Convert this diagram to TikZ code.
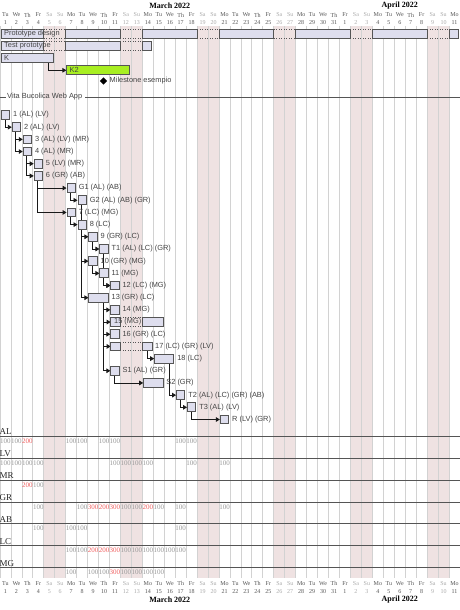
\documentclass[tikz,border=0pt]{standalone}
\usepackage{fontspec}
\setmainfont{Liberation Serif}
\newfontfamily\sansf{Liberation Sans}
\usetikzlibrary{arrows.meta,shapes.geometric}
\definecolor{wkbg}{HTML}{EFE2E2}
\definecolor{gridc}{HTML}{D2D2D2}
\definecolor{barf}{HTML}{DEDEEE}
\definecolor{barb}{HTML}{555555}
\definecolor{kgreen}{HTML}{A8EE22}
\definecolor{lblc}{HTML}{444444}
\definecolor{wdt}{HTML}{555555}
\definecolor{wkt}{HTML}{AAAAAA}
\definecolor{valc}{HTML}{999999}
\definecolor{valr}{HTML}{F06060}
\definecolor{rline}{HTML}{555555}
\pgfdeclarelayer{bg}
\pgfdeclarelayer{conn}
\pgfsetlayers{bg,conn,main}
\newcommand\DW{10.952}
\newcommand\mkbar[5]{%
  \pgfmathsetmacro\bw{(#3)-(#2)}%
  \pgfmathsetmacro\bx{((#2)+(#3))/2}%
  \node[#5, minimum width=\bw pt] (#1) at (\bx,#4) {};%
}
\newcommand\mktask[5]{%
  \mkbar{#1}{((#2)-1)*\DW+1.3}{(#3)*\DW-1.3}{#4}{tk}%
  \node[lbl] (#1l) at ([xshift=2.8pt]#1.east) {#5};%
}
\newcommand\segbox[3]{\draw[segst] (#1,#3-4.4) rectangle (#2,#3+4.4);}
\newcommand\segdot[3]{\draw[dotst] (#1,#3-4.4) -- (#2,#3-4.4) (#1,#3+4.4) -- (#2,#3+4.4);}
\newcommand\linkto[2]{\draw[depst] ([xshift=-5.15pt]#1.south east) |- (#2.west);}
\begin{document}
\begin{tikzpicture}[x=1pt,y=-1pt,
  tk/.style={rectangle,draw=barb,fill=barf,line width=0.9pt,inner sep=0pt,minimum height=8.8pt},
  phantom/.style={rectangle,inner sep=0pt,minimum height=8.8pt},
  segst/.style={draw=barb,fill=barf,line width=0.9pt},
  dotst/.style={draw=barb,line width=0.9pt,dash pattern=on 1pt off 1.5pt},
  lbl/.style={font=\sansf\fontsize{7.4}{8}\selectfont,text=lblc,inner sep=0pt,anchor=west},
  depst/.style={draw=black!90,line width=0.9pt,-{Triangle[length=4pt,width=4.6pt]}},
  hdr/.style={font=\fontsize{6}{7}\selectfont,inner sep=0pt},
  mon/.style={font=\bfseries\fontsize{8}{9}\selectfont,inner sep=0pt},
  val/.style={font=\fontsize{7}{8}\selectfont,inner sep=0pt},
  rlab/.style={font=\fontsize{9}{10}\selectfont,inner sep=0pt,anchor=base west,text=black!85},
  rl/.style={draw=rline,line width=1pt}
]
\useasboundingbox (0,0) rectangle (460,610);
\begin{pgfonlayer}{bg}
\fill[white] (0,0) rectangle (460,610);
\foreach \d in {5,6,12,13,19,20,26,27,33,34,40,41}
  \fill[wkbg] ({(\d-1)*\DW},26) rectangle ({\d*\DW},577.7);
\foreach \k in {0,...,42}
  \draw[gridc,line width=0.8pt] ({\k*\DW},26) -- ({\k*\DW},577.7);
\foreach \r in {0,...,6}
  \draw[rl] (0,{436.5+21.87*\r}) -- (460,{436.5+21.87*\r});
\end{pgfonlayer}

% headers
\node[mon] (mt1) at ({31*\DW/2},5.7) {March 2022};
\node[mon] (mt2) at ({(31+42)*\DW/2},5.7) {April 2022};
\node[mon] (mb1) at ({31*\DW/2},600) {March 2022};
\node[mon] (mb2) at ({(31+42)*\DW/2},600) {April 2022};
\foreach \i in {1,...,42}{%
  \pgfmathtruncatemacro\dw{mod(\i-1,7)}%
  \pgfmathtruncatemacro\dn{\i>31 ? \i-31 : \i}%
  \pgfmathsetmacro\cx{(\i-0.5)*\DW}%
  \ifnum\dw=4 \def\hc{wkt}\else\ifnum\dw=5 \def\hc{wkt}\else\def\hc{wdt}\fi\fi
  \node[hdr,text=\hc] (dt\i) at (\cx,15) {\ifcase\dw Tu\or We\or Th\or Fr\or Sa\or Su\or Mo\fi};
  \node[hdr,text=\hc] (nt\i) at (\cx,22.6) {\dn};
  \node[hdr,text=\hc] (db\i) at (\cx,583.3) {\ifcase\dw Tu\or We\or Th\or Fr\or Sa\or Su\or Mo\fi};
  \node[hdr,text=\hc] (nb\i) at (\cx,591.7) {\dn};
}

% top bars
\mkbar{pd}{1.5}{42*\DW-1.5}{33.8}{phantom}
\segbox{1.5}{4*\DW}{33.8}\segdot{4*\DW}{6*\DW}{33.8}
\segbox{6*\DW}{11*\DW}{33.8}\segdot{11*\DW}{13*\DW}{33.8}
\segbox{13*\DW}{18*\DW}{33.8}\segdot{18*\DW}{20*\DW}{33.8}
\segbox{20*\DW}{25*\DW}{33.8}\segdot{25*\DW}{27*\DW}{33.8}
\segbox{27*\DW}{32*\DW}{33.8}\segdot{32*\DW}{34*\DW}{33.8}
\segbox{34*\DW}{39*\DW}{33.8}\segdot{39*\DW}{41*\DW}{33.8}
\segbox{41*\DW}{42*\DW-1.5}{33.8}
\node[lbl] (pdl) at (4,33.8) {Prototype design};

\mkbar{tp}{1.5}{14*\DW-1.5}{46}{phantom}
\segbox{1.5}{4*\DW}{46}\segdot{4*\DW}{6*\DW}{46}
\segbox{6*\DW}{11*\DW}{46}\segdot{11*\DW}{13*\DW}{46}
\segbox{13*\DW}{14*\DW-1.5}{46}
\node[lbl] (tpl) at (4,46) {Test prototype};

\mkbar{k}{1.5}{5*\DW-1.5}{57.8}{tk}
\node[lbl] (kl) at (4,57.8) {K};
\mkbar{k2}{6*\DW+1.1}{12*\DW-2}{70.3}{tk,fill=kgreen}
\node[lbl] (k2l) at (69.5,70.3) {K2};

\node[diamond,fill=black,inner sep=0pt,minimum width=7.5pt,minimum height=7.5pt] (ms) at (103.5,81) {};
\node[lbl] (msl) at (109.5,81) {Milestone esempio};

% group
\coordinate (g0) at (0,97);
\coordinate (gend) at (460,97);
\node[lbl] (grp) at (7,97) {Vita Bucolica Web App};
\draw[rl] (g0) -- ([xshift=-1.5pt]grp.west);
\draw[rl] ([xshift=3pt]grp.east) -- (gend);

% tasks
\mktask{t1}{1}{1}{115.0}{1 (AL) (LV)}
\mktask{t2}{2}{2}{127.18}{2 (AL) (LV)}
\mktask{t3}{3}{3}{139.36}{3 (AL) (LV) (MR)}
\mktask{t4}{3}{3}{151.54}{4 (AL) (MR)}
\mktask{t5}{4}{4}{163.72}{5 (LV) (MR)}
\mktask{t6}{4}{4}{175.9}{6 (GR) (AB)}
\mktask{g1}{7}{7}{188.08}{G1 (AL) (AB)}
\mktask{g2}{8}{8}{200.26}{G2 (AL) (AB) (GR)}
\mktask{t7}{7}{7}{212.44}{7 (LC) (MG)}
\mktask{t8}{8}{8}{224.62}{8 (LC)}
\mktask{t9}{9}{9}{236.8}{9 (GR) (LC)}
\mktask{tT1}{10}{10}{248.98}{T1 (AL) (LC) (GR)}
\mktask{t10}{9}{9}{261.16}{10 (GR) (MG)}
\mktask{t11}{10}{10}{273.34}{11 (MG)}
\mktask{t12}{11}{11}{285.52}{12 (LC) (MG)}
\mktask{t13}{9}{10}{297.7}{13 (GR) (LC)}
\mktask{t14}{11}{11}{309.88}{14 (MG)}
\mkbar{t15}{10*\DW+1.3}{15*\DW-1.3}{322.06}{phantom}
\segbox{10*\DW+1.3}{11*\DW}{322.06}\segdot{11*\DW}{13*\DW}{322.06}
\segbox{13*\DW}{15*\DW-1.3}{322.06}
\node[lbl] (t15l) at (114,322.06) {15 (MG)};
\mktask{t16}{11}{11}{334.24}{16 (GR) (LC)}
\mkbar{t17}{10*\DW+1.3}{14*\DW-1.3}{346.42}{phantom}
\segbox{10*\DW+1.3}{11*\DW}{346.42}\segdot{11*\DW}{13*\DW}{346.42}
\segbox{13*\DW}{14*\DW-1.3}{346.42}
\node[lbl] (t17l) at ([xshift=2.8pt]t17.east) {17 (LC) (GR) (LV)};
\mktask{t18}{15}{16}{358.6}{18 (LC)}
\mktask{s1}{11}{11}{370.78}{S1 (AL) (GR)}
\mktask{s2}{14}{15}{382.96}{S2 (GR)}
\mktask{tT2}{17}{17}{395.14}{T2 (AL) (LC) (GR) (AB)}
\mktask{tT3}{18}{18}{407.32}{T3 (AL) (LV)}
\mktask{tR}{21}{21}{419.5}{R (LV) (GR)}

\begin{pgfonlayer}{conn}
\linkto{k}{k2}
\linkto{t1}{t2}
\linkto{t2}{t3}\linkto{t2}{t4}
\linkto{t4}{t5}\linkto{t4}{t6}
\linkto{t6}{g1}\linkto{t6}{t7}
\linkto{g1}{g2}
\linkto{t7}{t8}
\linkto{g2}{t9}\linkto{g2}{t10}\linkto{g2}{t13}
\linkto{t9}{tT1}
\linkto{t10}{t11}
\linkto{tT1}{t12}
\linkto{t11}{t12}
\linkto{t13}{t14}\linkto{t13}{t15}\linkto{t13}{t16}\linkto{t13}{t17}\linkto{t13}{s1}
\linkto{t17}{t18}
\linkto{s1}{s2}
\linkto{t18}{tT2}
\linkto{tT2}{tT3}
\linkto{tT3}{tR}
\end{pgfonlayer}

% resources
\foreach \r/\nm in {0/AL,1/LV,2/MR,3/GR,4/AB,5/LC,6/MG}
  \node[rlab] (rn\r) at (-0.6,{436.5+21.87*\r-1.6}) {\nm};

\newcommand\vrow[2]{%
  \foreach \d/\v/\c in {#2}
    \node[val,text=\c] (v#1-\d) at ({(\d-0.5)*\DW},{436.5+21.87*#1+4.6}) {\v};}
\vrow{0}{1/100/valc,2/100/valc,3/200/valr,7/100/valc,8/100/valc,10/100/valc,11/100/valc,17/100/valc,18/100/valc}
\vrow{1}{1/100/valc,2/100/valc,3/100/valc,4/100/valc,11/100/valc,12/100/valc,13/100/valc,14/100/valc,18/100/valc,21/100/valc}
\vrow{2}{3/200/valr,4/100/valc}
\vrow{3}{4/100/valc,8/100/valc,9/300/valr,10/200/valr,11/300/valr,12/100/valc,13/100/valc,14/200/valr,15/100/valc,17/100/valc,21/100/valc}
\vrow{4}{4/100/valc,7/100/valc,8/100/valc,17/100/valc}
\vrow{5}{7/100/valc,8/100/valc,9/200/valr,10/200/valr,11/300/valr,12/100/valc,13/100/valc,14/100/valc,15/100/valc,16/100/valc,17/100/valc}
\vrow{6}{7/100/valc,9/100/valc,10/100/valc,11/300/valr,12/100/valc,13/100/valc,14/100/valc,15/100/valc}
\end{tikzpicture}
\end{document}
